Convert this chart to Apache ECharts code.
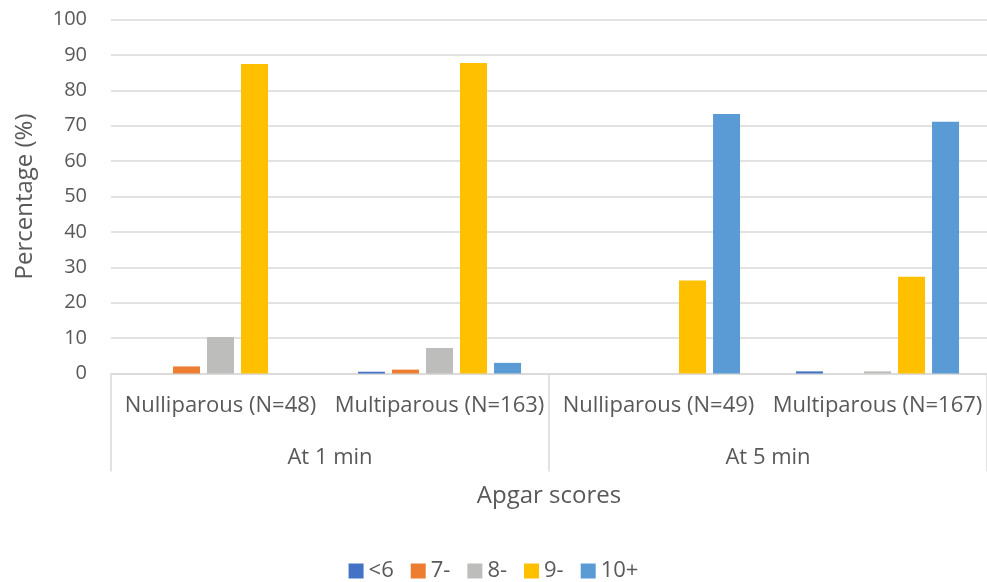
<!DOCTYPE html>
<html>
<head>
<meta charset="utf-8">
<script src="https://cdn.jsdelivr.net/npm/echarts@6/dist/echarts.min.js"></script>
<style>
  html, body { margin: 0; padding: 0; background: #fff; }
  #chart { width: 987px; height: 582px; }
</style>
</head>
<body>
<div id="chart"></div>
<script>
// Apgar score distribution by parity, at 1 and 5 minutes
const groups = ['Nulliparous (N=48)', 'Multiparous (N=163)', 'Nulliparous (N=49)', 'Multiparous (N=167)'];
const timepoints = ['At 1 min', 'At 5 min'];
const scoreLt6 = [0, 0.5, 0, 0.6];
const score7 = [2.0, 1.1, 0, 0];
const score8 = [10.3, 7.2, 0, 0.6];
const score9 = [87.4, 87.7, 26.3, 27.3];
const score10 = [0, 3.0, 73.3, 71.1];
const yTicks = { min: 0, max: 100, interval: 10 };

const FONT = 'Open Sans';
const TXT = '#595959';
const LINE = '#d9d9d9';

const seriesDefs = [
  { name: '<6', data: scoreLt6, color: '#4472C4' },
  { name: '7-', data: score7, color: '#ED7D31' },
  { name: '8-', data: score8, color: '#BDBDBB' },
  { name: '9-', data: score9, color: '#FFC000' },
  { name: '10+', data: score10, color: '#5B9BD5' }
];

const chart = echarts.init(document.getElementById('chart'), null, { renderer: 'canvas' });
chart.setOption({
  animation: false,
  textStyle: { fontFamily: FONT },
  grid: { left: 111, right: 0, top: 19.5, bottom: 208.5, containLabel: false },
  legend: {
    top: 560,
    left: 'center',
    itemWidth: 15,
    itemHeight: 15,
    itemGap: 17,
    padding: 0,
    icon: 'rect',
    textStyle: { color: TXT, fontSize: 22, fontFamily: FONT },
    data: seriesDefs.map(s => s.name)
  },
  xAxis: [
    {
      type: 'category',
      data: groups,
      axisLine: { show: true, lineStyle: { color: LINE, width: 1.5 } },
      axisTick: { show: false },
      axisLabel: { color: TXT, fontSize: 22, margin: 21, interval: 0 },
      name: 'Apgar scores',
      nameLocation: 'middle',
      nameGap: 111,
      nameTextStyle: { color: TXT, fontSize: 24 }
    },
    {
      type: 'category',
      position: 'bottom',
      data: timepoints,
      axisLine: { show: false },
      axisTick: { show: true, alignWithLabel: false, length: 98, lineStyle: { color: LINE, width: 1.5 } },
      axisLabel: { color: TXT, fontSize: 22, margin: 73, interval: 0 },
      splitLine: { show: false }
    }
  ],
  yAxis: {
    type: 'value',
    min: yTicks.min,
    max: yTicks.max,
    interval: yTicks.interval,
    axisLine: { show: false },
    axisTick: { show: false },
    axisLabel: { color: TXT, fontSize: 20, margin: 24 },
    splitLine: { lineStyle: { color: LINE, width: 1.5 } },
    name: 'Percentage (%)',
    nameLocation: 'middle',
    nameGap: 74,
    nameTextStyle: { color: TXT, fontSize: 24 }
  },
  series: seriesDefs.map(s => ({
    name: s.name,
    type: 'bar',
    xAxisIndex: 0,
    data: s.data,
    barWidth: 27,
    barGap: '26%',
    barCategoryGap: '25.6%',
    itemStyle: { color: s.color }
  }))
});
</script>
</body>
</html>
